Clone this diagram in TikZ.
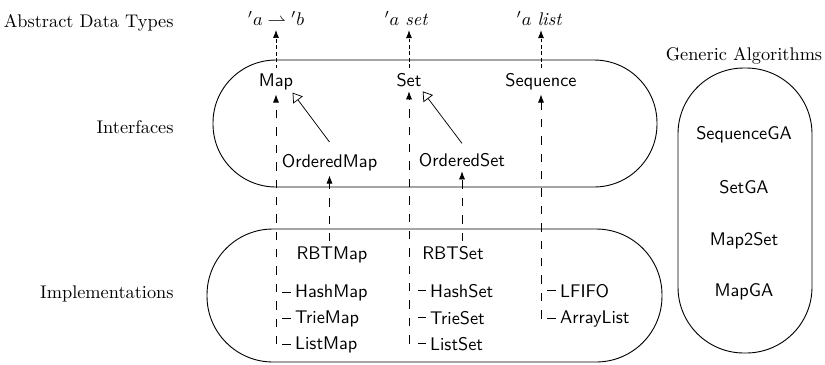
\documentclass[tikz,border=0pt]{standalone}
\usetikzlibrary{arrows.meta,calc}
\begin{document}
\begin{tikzpicture}[x=0.5464pt,y=-0.5464pt,
  lab/.style={anchor=base east, font=\rmfamily},
  adt/.style={anchor=base, inner sep=2.5pt},
  cls/.style={font=\sffamily, anchor=base, inner sep=2.5pt},
  impl/.style={font=\sffamily, anchor=base west, inner sep=1pt},
  tipf/.style={-{Latex[length=4.4pt,width=3.3pt]}},
  dep/.style={tipf, dash pattern=on 4.6pt off 4.9pt},
  stub/.style={draw, shorten >=1pt},
  adtarrow/.style={tipf, dash pattern=on 2pt off 1.5pt},
  inh/.style={-{Triangle[open,length=5pt,width=6.5pt]}},
  grp/.style={draw, line width=0.5pt}]
\useasboundingbox (0,0) rectangle (825,364);

% group outlines
\draw[grp, rounded corners=34.4pt] (213,60) rectangle (657,187);
\draw[grp, rounded corners=36pt] (207,229) rectangle (662,362);
\draw[grp, rounded corners=36pt] (678,68) rectangle (812,353);

% row labels
\node[lab] (adtlab) at (180,27) {Abstract Data Types};
\node[lab] (intlab) at (180,133) {Interfaces};
\node[lab] (implab) at (180,298) {Implementations};
\node[anchor=base] (galab) at (744,60) {Generic Algorithms};

% abstract data types
\node[adt] (tmap) at (276,25) {$'a \rightharpoonup {}'b$};
\node[adt] (tset) at (406,25) {$'a~\textit{set}$};
\node[adt] (tlist) at (539,25) {$'a~\textit{list}$};

% interfaces
\node[cls] (Map) at (276,86) {Map};
\node[cls] (Set) at (409,86) {Set};
\node[cls] (Seq) at (541,86) {Sequence};
\node[cls] (OMap) at (329.5,167) {OrderedMap};
\node[cls] (OSet) at (462,166) {OrderedSet};

% implementations
\node[cls] (RBTMap) at (332,259) {RBTMap};
\node[cls] (RBTSet) at (453,259) {RBTSet};
\node[impl] (HashMap) at (293,297) {HashMap};
\node[impl] (TrieMap) at (293,323) {TrieMap};
\node[impl] (ListMap) at (293,349) {ListMap};
\node[impl] (HashSet) at (428,297) {HashSet};
\node[impl] (TrieSet) at (428,324) {TrieSet};
\node[impl] (ListSet) at (428,350) {ListSet};
\node[impl] (LFIFO) at (558,297) {LFIFO};
\node[impl] (ArrayList) at (558,323) {ArrayList};

% generic algorithms
\node[cls] (SeqGA) at (744,139) {SequenceGA};
\node[cls] (SetGA) at (744,193) {SetGA};
\node[cls] (M2S) at (744,245) {Map2Set};
\node[cls] (MapGA) at (744,296) {MapGA};

% interface -> ADT
\draw[adtarrow] (Map.north) -- (Map |- tmap.south);
\draw[adtarrow] (Set.north) -- (Set |- tset.south);
\draw[adtarrow] (Seq.north) -- (Seq |- tlist.south);

% inheritance
\draw[inh] ([yshift=3.8pt]OMap.north) -- ([xshift=-3pt,yshift=1pt]Map.south east);
\draw[inh] ([yshift=2.5pt]OSet.north) -- ([xshift=-2pt,yshift=0pt]Set.south east);

% implementation -> interface
\draw[dep] (OMap |- RBTMap.north) -- (OMap.south);
\draw[dep] (OSet |- RBTSet.north) -- (OSet.south);

\draw[dep] (Map |- ListMap.west) -- (Map.south);
\draw[stub, shorten <=3.3pt] (Map |- HashMap.west) -- (HashMap.west);
\draw[stub, shorten <=3.3pt] (Map |- TrieMap.west) -- (TrieMap.west);
\draw[stub, shorten <=3.3pt] (Map |- ListMap.west) -- (ListMap.west);

\draw[dep] (Set |- ListSet.west) -- (Set.south);
\draw[stub, shorten <=4.8pt] (Set |- HashSet.west) -- (HashSet.west);
\draw[stub, shorten <=4.8pt] (Set |- TrieSet.west) -- (TrieSet.west);
\draw[stub, shorten <=4.8pt] (Set |- ListSet.west) -- (ListSet.west);

\draw[dep] (Seq |- ArrayList.west) -- (Seq.south);
\draw[stub, shorten <=3.3pt] (Seq |- LFIFO.west) -- (LFIFO.west);
\draw[stub, shorten <=3.3pt] (Seq |- ArrayList.west) -- (ArrayList.west);
\end{tikzpicture}
\end{document}
